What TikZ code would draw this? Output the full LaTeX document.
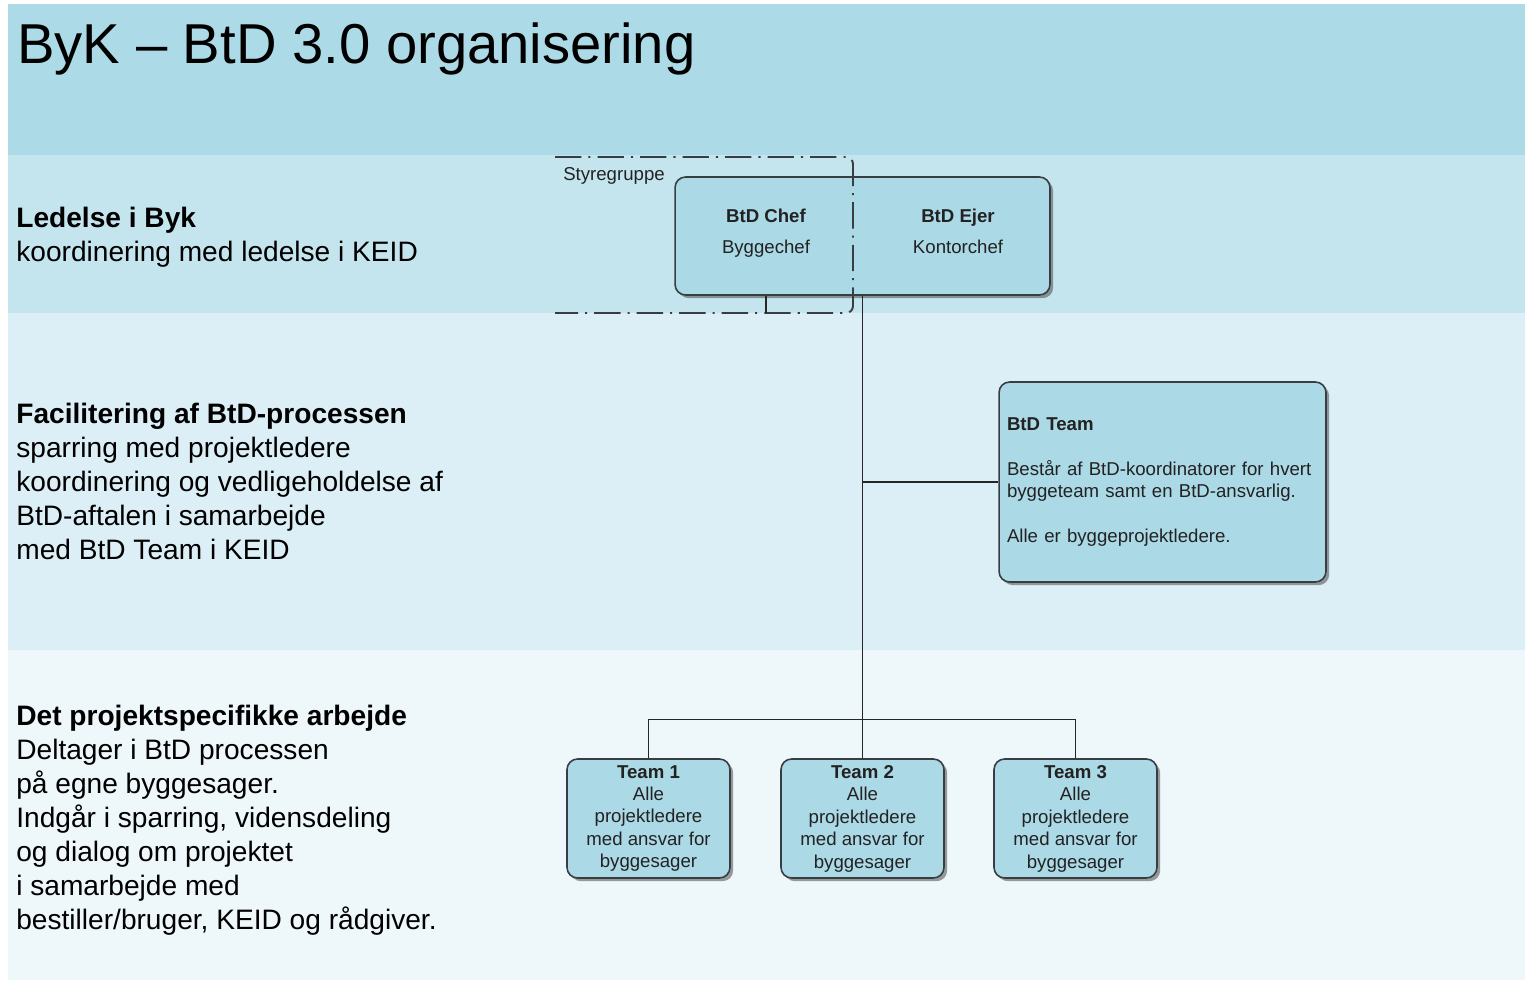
\documentclass[tikz,border=0pt]{standalone}
\usepackage{fontspec}
\setmainfont{Liberation Sans}
\usetikzlibrary{shadows}
\definecolor{bandA}{HTML}{ACDAE6}
\definecolor{bandB}{HTML}{C5E5EE}
\definecolor{bandC}{HTML}{DDEFF6}
\definecolor{bandD}{HTML}{EEF7FA}
\definecolor{boxfill}{HTML}{ABD9E6}
\definecolor{boxline}{HTML}{383D42}
\definecolor{textdark}{HTML}{222222}
\newcommand\titlefont{\fontsize{32}{38}\selectfont}
\newcommand\sidefont{\fontsize{16}{19.3}\selectfont}
\newcommand\orgfont{\fontsize{10.6}{12.8}\selectfont}
\newcommand\headfont{\fontsize{10.6}{17.6}\selectfont}
\begin{document}
\begin{tikzpicture}[x=0.02cm,y=-0.02cm,
		orgbox/.style={draw=boxline,line width=0.9pt,fill=boxfill,rounded corners=6pt,inner sep=0pt,text=textdark,
			drop shadow={shadow xshift=1.8pt,shadow yshift=-1.8pt,opacity=0.55,fill=black!70}},
		teambox/.style={orgbox,minimum width=3.26cm,minimum height=2.38cm,align=center,font=\orgfont},
		headtext/.style={anchor=north,inner sep=0pt,align=center,font=\headfont,text=textdark},
		sidetext/.style={anchor=north west,inner sep=0pt,align=left,font=\sidefont},
		link/.style={draw=black!85,line width=0.8pt},
		grouplin/.style={draw=boxline,line width=1.1pt,dash pattern=on 15pt off 4pt on 1.2pt off 4pt}]
		\fill[white] (0,0) rectangle (1525,981);
		\useasboundingbox (0,0) rectangle (1525,981);
		\fill[bandA] (8,4) rectangle (1525,155);
		\fill[bandB] (8,155) rectangle (1525,313);
		\fill[bandC] (8,313) rectangle (1525,650);
		\fill[bandD] (8,650) rectangle (1525,980);
		\node[anchor=base west,inner sep=0pt,font=\titlefont] (title) at (17,63) {ByK – BtD 3.0 organisering};
		\node[sidetext] (ledelse) at (16,207) {\textbf{Ledelse i Byk}\\koordinering med ledelse i KEID};
		\node[sidetext] (facilitering) at (16,403) {\textbf{Facilitering af BtD-processen}\\sparring med projektledere\\koordinering og vedligeholdelse af\\BtD-aftalen i samarbejde\\med BtD Team i KEID};
		\node[sidetext] (projekt) at (16,705) {\textbf{Det projektspecifikke arbejde}\\Deltager i BtD processen\\på egne byggesager.\\Indgår i sparring, vidensdeling\\og dialog om projektet\\i samarbejde med\\bestiller/bruger, KEID og rådgiver.};
		\node[orgbox,minimum width=7.5cm,minimum height=2.36cm] (styre) at (862.5,236) {};
		\node[headtext] (chef) at (766,209) {\textbf{BtD Chef}\\Byggechef};
		\node[headtext] (ejer) at (958,209) {\textbf{BtD Ejer}\\Kontorchef};
		\node[font=\orgfont,text=textdark] (styregruppe) at (614,176) {Styregruppe};
		\coordinate (grpNW) at (555,157);
		\coordinate (grpNE) at (853,157);
		\coordinate (grpSE) at (853,313);
		\coordinate (grpSW) at (555,313);
		\draw[grouplin,rounded corners=4pt] (grpNW) -- (grpNE) -- (grpSE) -- (grpSW);
		\node[orgbox,minimum width=6.54cm,minimum height=4cm,text width=6.22cm,align=left,font=\orgfont] (btdteam) at (1162.5,482) {\textbf{BtD Team}\\[12.8pt]Består af BtD-koordinatorer for hvert\\byggeteam samt en BtD-ansvarlig.\\[12.8pt]Alle er byggeprojektledere.};
		\node[teambox] (team1) at (648.5,818.5) {\textbf{Team 1}\\Alle\\projektledere\\med ansvar for\\byggesager};
		\node[teambox] (team2) at (862.5,818.5) {\textbf{Team 2}\\Alle\\projektledere\\med ansvar for\\byggesager};
		\node[teambox] (team3) at (1075.5,818.5) {\textbf{Team 3}\\Alle\\projektledere\\med ansvar for\\byggesager};
		\draw[link] (styre.south -| chef) -- (grpSW -| chef);
		\draw[link] (styre.south) -- (team2.north);
		\draw[link] (styre.south |- btdteam.west) -- (btdteam.west);
		\draw[link] (team1.north) -- ++(0,-39) -| (team3.north);
		\end{tikzpicture}
\end{document}
